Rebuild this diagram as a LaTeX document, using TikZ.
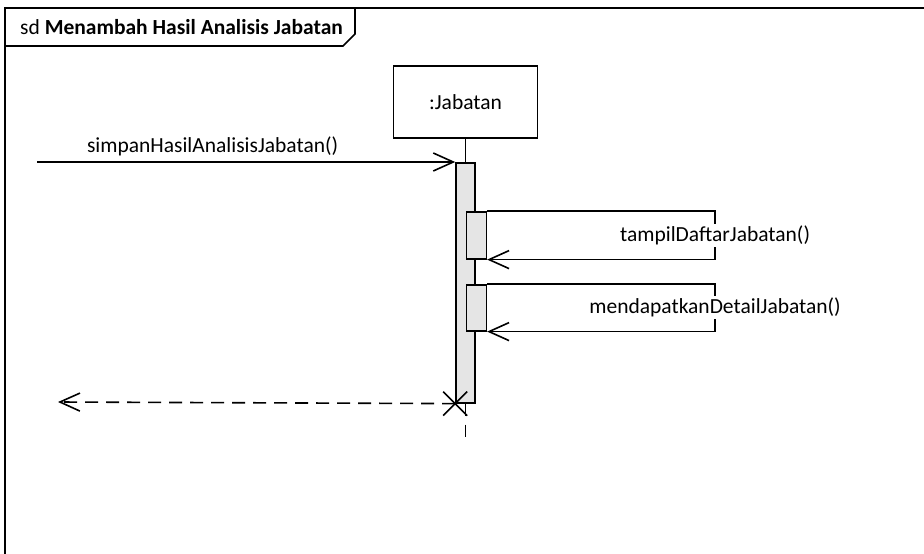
\documentclass[tikz,border=0pt]{standalone}
\usepackage{fontspec}
\setmainfont{Carlito}
\usetikzlibrary{arrows.meta,positioning}

\tikzset{
  lifebox/.style={draw, line width=1.6pt, minimum width=144pt, minimum height=72pt, inner sep=0pt},
  actbar/.style={draw, fill=gray!20, line width=1.6pt, minimum width=19pt, inner sep=0pt},
  msg/.style={line width=1.6pt, -{Straight Barb[length=20pt,width=18pt]}},
  ret/.style={msg, dash pattern=on 13pt off 8pt},
  msglabel/.style={fill=white, inner sep=2pt},
}

\begin{document}
\begin{tikzpicture}[x=1pt,y=-1pt,font=\fontsize{21.5}{25}\selectfont]
\useasboundingbox (0,0) rectangle (924,554);

% frame with its name tab
\draw[line width=2pt] (5,560) -- (5,8) -- (930,8);
\draw[line width=1.6pt] (5,46) -- (343,46) -- (355,34) -- (355,8);
\node[anchor=west, inner sep=0pt] (title) at (20,27) {sd \textbf{Menambah Hasil Analisis Jabatan}};

% lifeline
\node[lifebox] (jab) at (465.5,102) {:Jabatan};
\node[actbar, minimum height=240pt, anchor=north] (act) at (465.5,162) {};
\node[actbar, minimum width=20pt, minimum height=47pt, anchor=north west] (act1) at (465.5,211) {};
\node[actbar, minimum width=20pt, minimum height=46pt, anchor=north west] (act2) at (465.5,284) {};
\draw[line width=1.6pt] (jab.south) -- (act.north);
\draw[line width=1.6pt, dash pattern=on 12pt off 9pt] (act.south) -- ++(0,38);

% incoming call
\coordinate (src) at (37,162);
\draw[msg] (src) -- (act.north west)
  node[pos=0.42, above=5pt, inner sep=0pt] (m1) {simpanHasilAnalisisJabatan()};

% self calls
\draw[msg] (act1.north east) -- ++(228,0) |- (act1.south east)
  node[pos=0.25, msglabel] (m2) {tampilDaftarJabatan()};
\draw[msg] (act2.north east) -- ++(228,0) |- (act2.south east)
  node[pos=0.25, msglabel] (m3) {mendapatkanDetailJabatan()};

% reply and destruction
\coordinate (kill) at (act.south west);
\coordinate (dst) at (58,402);
\draw[ret] (kill) -- (dst);
\draw[line width=1.6pt] (kill) ++(-12,-12) -- ++(24,24) (kill) ++(12,-12) -- ++(-24,24);

\end{tikzpicture}
\end{document}
